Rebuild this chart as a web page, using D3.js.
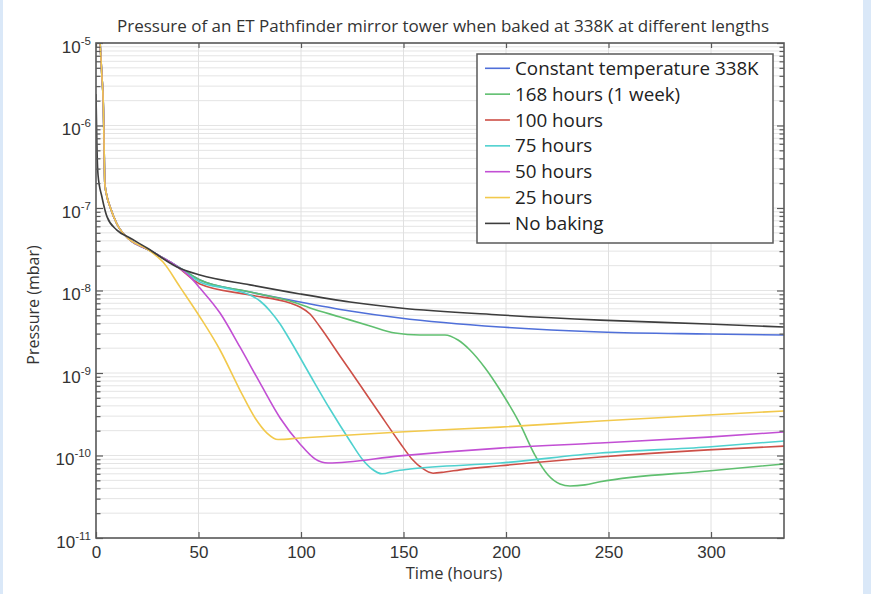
<!DOCTYPE html>
<html>
<head>
<meta charset="utf-8">
<script src="https://cdn.jsdelivr.net/npm/d3@7"></script>
<style>
  html, body { margin: 0; padding: 0; background: #fff; }
  svg { display: block; font-family: "Open Sans", "Noto Sans", sans-serif; }
</style>
</head>
<body>
<svg id="chart" width="871" height="594"></svg>
<script>
// ---- chart text ----
const chartTitle = "Pressure of an ET Pathfinder mirror tower when baked at 338K at different lengths";
const xTitle = "Time (hours)";
const yTitle = "Pressure (mbar)";

// ---- axes ----
const timeTicks = [0, 50, 100, 150, 200, 250, 300];
const decadeExponents = [-11, -10, -9, -8, -7, -6, -5];
const timeRange = [0, 335.6];          // hours
const pressureRange = [1e-11, 1e-5];   // mbar

// ---- series: [time (hours), pressure (mbar)] ----
// initial pump-down shared by every baked run
const pumpdown = [[0, 3e-5], [2, 1e-5], [2.8, 4.3e-6], [3.6, 1.67e-6], [3.9, 6.7e-7], [4.3, 2.0e-7],
  [5.4, 1.36e-7], [6.8, 1.04e-7], [10.2, 6.4e-8], [16.6, 4.09e-8], [24.9, 3.18e-8]];

const constantTemp = [[32.7, 2.48e-8], [38.5, 2.04e-8], [50.7, 1.34e-8], [75.1, 9.6e-9], [99.5, 7.26e-9],
  [123.9, 5.65e-9], [148.3, 4.64e-9], [197.1, 3.61e-9], [245.9, 3.14e-9], [298.5, 2.97e-9], [335.6, 2.89e-9]];

const bake168 = [[32.7, 2.48e-8], [38.5, 2.04e-8], [50.7, 1.34e-8], [75.1, 9.6e-9], [94.6, 7.46e-9],
  [104.4, 6.14e-9], [119, 4.78e-9], [133.7, 3.72e-9], [145.9, 3.05e-9], [158, 2.89e-9], [170.2, 2.89e-9],
  [176.6, 2.51e-9], [182.4, 1.90e-9], [189.8, 1.15e-9], [197.1, 6.22e-10], [206.8, 2.41e-10],
  [214.1, 1.01e-10], [220.5, 5.8e-11], [226.3, 4.52e-11], [231.2, 4.27e-11], [238.5, 4.4e-11],
  [245.9, 4.8e-11], [298.5, 6.5e-11], [335.6, 7.9e-11]];

const bake100 = [[32.7, 2.48e-8], [38.5, 2.04e-8], [50.7, 1.20e-8], [75.1, 8.81e-9], [94.6, 7.05e-9],
  [99.5, 6.31e-9], [104.4, 5.19e-9], [109.3, 3.61e-9], [119, 1.61e-9], [128.8, 7.16e-10],
  [138.5, 3.18e-10], [148.3, 1.42e-10], [154.1, 9.08e-11], [159, 7.05e-11], [164.4, 6.1e-11],
  [170.2, 6.31e-11], [177.6, 6.7e-11], [197.1, 7.5e-11], [245.9, 9.6e-11], [298.5, 1.17e-10],
  [335.6, 1.30e-10]];

const bake75 = [[32.7, 2.48e-8], [38.5, 2.04e-8], [50.7, 1.27e-8], [65.4, 1.04e-8], [75.1, 8.81e-9],
  [80, 7.46e-9], [84.9, 5.65e-9], [89.8, 3.93e-9], [94.6, 2.51e-9], [104.4, 9.46e-10], [114.1, 3.66e-10],
  [123.9, 1.50e-10], [129.8, 9.08e-11], [134.6, 6.86e-11], [139.5, 6.0e-11], [145.9, 6.5e-11],
  [153.2, 6.86e-11], [197.1, 8.1e-11], [245.9, 1.07e-10], [298.5, 1.27e-10], [335.6, 1.50e-10]];

const bake50 = [[32.7, 2.48e-8], [38.5, 2.04e-8], [45.9, 1.46e-8], [50.7, 1.07e-8], [60.5, 5.33e-9],
  [70.2, 2.07e-9], [80, 7.57e-10], [89.8, 2.85e-10], [99.5, 1.38e-10], [106.8, 9.1e-11], [113.2, 8.1e-11],
  [148.3, 9.9e-11], [197.1, 1.23e-10], [245.9, 1.42e-10], [298.5, 1.67e-10], [335.6, 1.93e-10]];

const bake25 = [[32.7, 2.21e-8], [41, 1.10e-8], [50.7, 4.78e-9], [60.5, 1.90e-9], [70.2, 6.22e-10],
  [77.6, 2.85e-10], [83.4, 1.87e-10], [88.8, 1.56e-10], [99.5, 1.63e-10], [148.3, 1.93e-10],
  [197.1, 2.21e-10], [245.9, 2.62e-10], [298.5, 3.10e-10], [335.6, 3.46e-10]];

const noBaking = [[0, 2.4e-6], [0.5, 5.05e-7], [1, 2.5e-7], [2.9, 1.36e-7], [5.4, 7.8e-8], [10.2, 5.4e-8],
  [16.6, 4.33e-8], [24.9, 3.27e-8], [39.5, 1.93e-8], [50.7, 1.54e-8], [75.1, 1.17e-8], [99.5, 9.09e-9],
  [123.9, 7.26e-9], [148.3, 6.14e-9], [197.1, 5.05e-9], [245.9, 4.38e-9], [298.5, 3.93e-9], [335.6, 3.61e-9]];

const seriesNames = ["Constant temperature 338K", "168 hours (1 week)", "100 hours", "75 hours",
  "50 hours", "25 hours", "No baking"];
const seriesColors = ["#4f6fd9", "#5fbf6f", "#cd4f47", "#4fd1cf", "#c24fd4", "#f2c94c", "#3d3d3d"];
const seriesPoints = [
  pumpdown.concat(constantTemp), pumpdown.concat(bake168), pumpdown.concat(bake100),
  pumpdown.concat(bake75), pumpdown.concat(bake50), pumpdown.concat(bake25), noBaking
];

// ---- layout ----
const W = 871, H = 594;
const plot = { left: 96, right: 784, top: 43, bottom: 538 };
const textColor = "#333";
const frameColor = "#5a5a5a";

const svg = d3.select("#chart");

// page background with the pale side bands
svg.append("rect").attr("width", W).attr("height", H).attr("fill", "#fff");
svg.append("rect").attr("x", 0).attr("y", 0).attr("width", 3).attr("height", H).attr("fill", "#dae8f8");
svg.append("rect").attr("x", 863).attr("y", 0).attr("width", 8).attr("height", H).attr("fill", "#dae8f8");

const x = d3.scaleLinear().domain(timeRange).range([plot.left, plot.right]);
const y = d3.scaleLog().domain(pressureRange).range([plot.bottom, plot.top]);

const decadeValues = decadeExponents.map(e => Math.pow(10, e));
const minorValues = [];
decadeExponents.slice(0, -1).forEach(e => {
  for (let k = 2; k <= 9; k++) minorValues.push(k * Math.pow(10, e));
});

// ---- grid ----
const grid = svg.append("g");
grid.selectAll("line.hgrid").data(minorValues.concat(decadeValues)).join("line")
  .attr("x1", plot.left).attr("x2", plot.right)
  .attr("y1", d => y(d)).attr("y2", d => y(d))
  .attr("stroke", "#e4e4e4").attr("stroke-width", 1);
grid.selectAll("line.vgrid").data(timeTicks).join("line")
  .attr("x1", d => x(d)).attr("x2", d => x(d))
  .attr("y1", plot.top).attr("y2", plot.bottom)
  .attr("stroke", "#e0e0e0").attr("stroke-width", 1);

// ---- curves ----
svg.append("clipPath").attr("id", "plotClip").append("rect")
  .attr("x", plot.left).attr("y", plot.top)
  .attr("width", plot.right - plot.left).attr("height", plot.bottom - plot.top);

const line = d3.line().x(d => x(d[0])).y(d => y(d[1])).curve(d3.curveMonotoneX);
svg.append("g").attr("clip-path", "url(#plotClip)")
  .selectAll("path").data(seriesPoints).join("path")
  .attr("d", line).attr("fill", "none")
  .attr("stroke", (d, i) => seriesColors[i]).attr("stroke-width", 1.6)
  .attr("stroke-linejoin", "round");

// ---- axes (ticks pointing inward) ----
function styleAxis(g) {
  g.select(".domain").remove();
  g.selectAll(".tick line").attr("stroke", frameColor).attr("stroke-width", 1.2);
  g.selectAll(".tick text").attr("fill", textColor);
}

// y: major decade ticks with labels on the left
const yAxisLeft = svg.append("g").attr("transform", `translate(${plot.left},0)`)
  .call(d3.axisLeft(y).tickValues(decadeValues).tickSizeInner(-7).tickSizeOuter(0).tickPadding(5)
    .tickFormat(d => "10"))
  .call(styleAxis);
yAxisLeft.selectAll(".tick text")
  .attr("font-size", 17).attr("dy", 9)
  .each(function (d) {
    const t = d3.select(this);
    const exp = Math.round(Math.log10(d));
    t.text(null);
    t.append("tspan").text("10");
    t.append("tspan").attr("font-size", 11.5).attr("dy", -8).text(exp);
  });
svg.append("g").attr("transform", `translate(${plot.left},0)`)
  .call(d3.axisLeft(y).tickValues(minorValues).tickSizeInner(-4.5).tickSizeOuter(0).tickFormat(""))
  .call(styleAxis);

// y: right side ticks
svg.append("g").attr("transform", `translate(${plot.right},0)`)
  .call(d3.axisRight(y).tickValues(decadeValues).tickSizeInner(-7).tickSizeOuter(0).tickFormat(""))
  .call(styleAxis);
svg.append("g").attr("transform", `translate(${plot.right},0)`)
  .call(d3.axisRight(y).tickValues(minorValues).tickSizeInner(-4.5).tickSizeOuter(0).tickFormat(""))
  .call(styleAxis);

// x: bottom ticks with labels, top ticks without
svg.append("g").attr("transform", `translate(0,${plot.bottom})`)
  .call(d3.axisBottom(x).tickValues(timeTicks).tickSizeInner(-6).tickSizeOuter(0).tickPadding(8)
    .tickFormat(d3.format("d")))
  .call(styleAxis)
  .selectAll(".tick text").attr("font-size", 17);
svg.append("g").attr("transform", `translate(0,${plot.top})`)
  .call(d3.axisTop(x).tickValues(timeTicks).tickSizeInner(-5).tickSizeOuter(0).tickFormat(""))
  .call(styleAxis);

// plot frame
svg.append("rect")
  .attr("x", plot.left).attr("y", plot.top)
  .attr("width", plot.right - plot.left).attr("height", plot.bottom - plot.top)
  .attr("fill", "none").attr("stroke", frameColor).attr("stroke-width", 1.6);

// ---- titles ----
svg.append("text").attr("x", 443).attr("y", 32).attr("text-anchor", "middle")
  .attr("font-size", 17).attr("fill", textColor).text(chartTitle);
svg.append("text").attr("x", 454).attr("y", 579).attr("text-anchor", "middle")
  .attr("font-size", 16.5).attr("fill", textColor).text(xTitle);
svg.append("text").attr("transform", "translate(39,305) rotate(-90)").attr("text-anchor", "middle")
  .attr("font-size", 16).attr("fill", textColor).text(yTitle);

// ---- legend ----
const legend = svg.append("g");
legend.append("rect").attr("x", 477).attr("y", 54).attr("width", 296).attr("height", 189)
  .attr("fill", "#fff").attr("stroke", frameColor).attr("stroke-width", 1.5);
const rows = legend.selectAll("g.row").data(seriesNames).join("g")
  .attr("transform", (d, i) => `translate(0,${68.3 + i * 25.85})`);
rows.append("line").attr("x1", 485).attr("x2", 510).attr("y1", 0).attr("y2", 0)
  .attr("stroke", (d, i) => seriesColors[i]).attr("stroke-width", 1.6);
rows.append("text").attr("x", 515).attr("y", 0).attr("dy", "0.35em")
  .attr("font-size", 18.8).attr("fill", "#222").text(d => d);
</script>
</body>
</html>
